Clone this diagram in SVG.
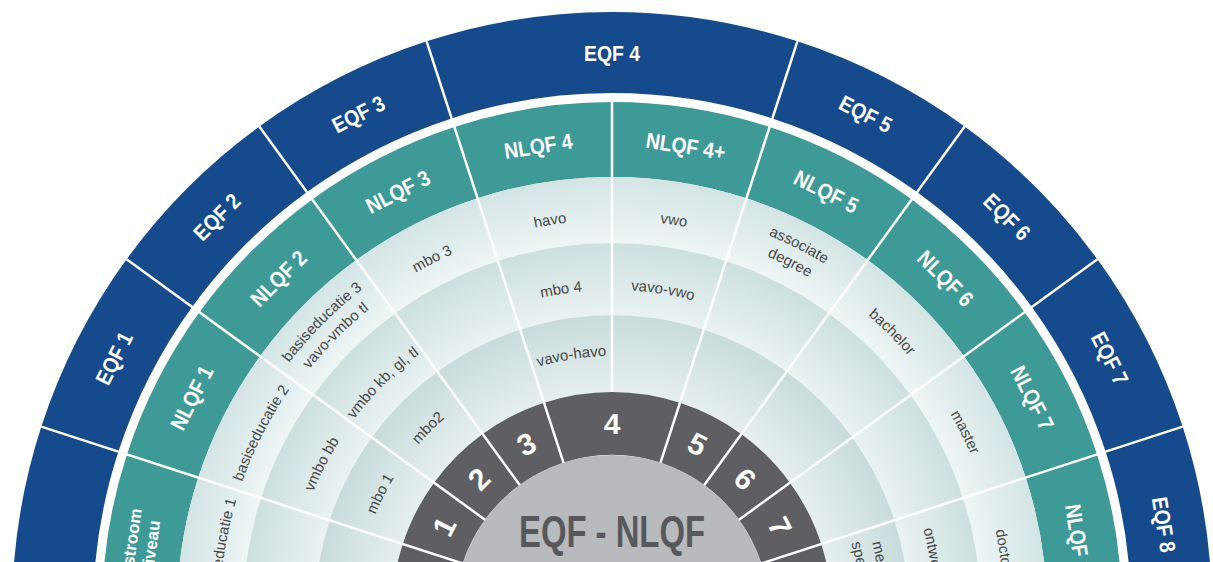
<svg xmlns="http://www.w3.org/2000/svg" width="1213" height="562" viewBox="0 0 1213 562">
<defs>
<style>
.blue{fill:#154b8c}
.teal{fill:#3d9a97}
.dark{fill:#5f5f63}
.ra{fill:url(#gA)}
.rb{fill:url(#gB)}
.rc{fill:url(#gC)}
.lbl{font-family:'Liberation Sans',Arial,sans-serif;font-weight:bold;font-size:22px;fill:#fff;text-anchor:middle}
.ins{font-family:'Liberation Sans',Arial,sans-serif;font-weight:bold;font-size:17px;fill:#fff;text-anchor:middle}
.num{font-family:'Liberation Sans',Arial,sans-serif;font-weight:bold;font-size:30px;fill:#fff;text-anchor:middle}
.cell{font-family:'Liberation Sans',Arial,sans-serif;font-size:15px;fill:#474747;text-anchor:middle}
.ctr{font-family:'Liberation Sans',Arial,sans-serif;font-weight:bold;font-size:44px;fill:#58585c;text-anchor:middle}
.div{stroke:#fff;stroke-width:2.5}
</style>
<radialGradient id="gA" gradientUnits="userSpaceOnUse" cx="0" cy="0" r="435"><stop offset="0.848" stop-color="#eef5f5"/><stop offset="1" stop-color="#d4e4e4"/></radialGradient>
<radialGradient id="gB" gradientUnits="userSpaceOnUse" cx="0" cy="0" r="369"><stop offset="0.805" stop-color="#eaf2f2"/><stop offset="1" stop-color="#cddfdf"/></radialGradient>
<radialGradient id="gC" gradientUnits="userSpaceOnUse" cx="0" cy="0" r="297"><stop offset="0.741" stop-color="#e6efef"/><stop offset="1" stop-color="#c9dbdb"/></radialGradient>
<path id="s-blue18" d="M-93.86,-592.61 A600,600 0 0 1 93.86,-592.61 L81.19,-512.61 A519,519 0 0 0 -81.19,-512.61Z"/>
<path id="s-blue36" d="M-185.41,-570.63 A600,600 0 0 1 185.41,-570.63 L160.38,-493.60 A519,519 0 0 0 -160.38,-493.60Z"/>
<path id="s-teal18" d="M-79.78,-503.72 A510,510 0 0 1 79.78,-503.72 L68.05,-429.64 A435,435 0 0 0 -68.05,-429.64Z"/>
<path id="s-teal36" d="M-157.60,-485.04 A510,510 0 0 1 157.60,-485.04 L134.42,-413.71 A435,435 0 0 0 -134.42,-413.71Z"/>
<path id="s-a18" d="M-68.05,-429.64 A435,435 0 0 1 68.05,-429.64 L57.72,-364.46 A369,369 0 0 0 -57.72,-364.46Z"/>
<path id="s-a36" d="M-134.42,-413.71 A435,435 0 0 1 134.42,-413.71 L114.03,-350.94 A369,369 0 0 0 -114.03,-350.94Z"/>
<path id="s-b18" d="M-57.72,-364.46 A369,369 0 0 1 57.72,-364.46 L46.46,-293.34 A297,297 0 0 0 -46.46,-293.34Z"/>
<path id="s-b36" d="M-114.03,-350.94 A369,369 0 0 1 114.03,-350.94 L91.78,-282.46 A297,297 0 0 0 -91.78,-282.46Z"/>
<path id="s-c18" d="M-46.46,-293.34 A297,297 0 0 1 46.46,-293.34 L34.42,-217.29 A220,220 0 0 0 -34.42,-217.29Z"/>
<path id="s-c36" d="M-91.78,-282.46 A297,297 0 0 1 91.78,-282.46 L67.98,-209.23 A220,220 0 0 0 -67.98,-209.23Z"/>
<path id="s-d18" d="M-34.42,-217.29 A220,220 0 0 1 34.42,-217.29 L24.56,-155.07 A157,157 0 0 0 -24.56,-155.07Z"/>
<path id="s-d36" d="M-67.98,-209.23 A220,220 0 0 1 67.98,-209.23 L48.52,-149.32 A157,157 0 0 0 -48.52,-149.32Z"/>
<path id="tA" d="M-251.97,-300.29 A392,392 0 0 1 251.97,-300.29"/>
<path id="tB" d="M-206.98,-246.67 A322,322 0 0 1 206.98,-246.67"/>
<path id="tC" d="M-164.55,-196.11 A256,256 0 0 1 164.55,-196.11"/>
<path id="tA1" d="M-262.26,-312.55 A408,408 0 0 1 262.26,-312.55"/>
<path id="tA2" d="M-249.40,-297.22 A388,388 0 0 1 249.40,-297.22"/>
<path id="tC1" d="M-172.91,-206.07 A269,269 0 0 1 172.91,-206.07"/>
<path id="tC2" d="M-160.05,-190.74 A249,249 0 0 1 160.05,-190.74"/>
</defs>
<rect width="1213" height="562" fill="#fff"/>
<g transform="translate(612 612)">
<!-- EQF ring -->
<g id="eqf-0"><use href="#s-blue36" class="blue" transform="rotate(-90)"/></g>
<g id="eqf-1"><use href="#s-blue18" class="blue" transform="rotate(-63)"/><text class="lbl" transform="rotate(-63) translate(0 -559) scale(0.88 1)" y="8">EQF 1</text></g>
<g id="eqf-2"><use href="#s-blue18" class="blue" transform="rotate(-45)"/><text class="lbl" transform="rotate(-45) translate(0 -559) scale(0.88 1)" y="8">EQF 2</text></g>
<g id="eqf-3"><use href="#s-blue18" class="blue" transform="rotate(-27)"/><text class="lbl" transform="rotate(-27) translate(0 -559) scale(0.88 1)" y="8">EQF 3</text></g>
<g id="eqf-4"><use href="#s-blue36" class="blue"/><text class="lbl" transform="translate(0 -559) scale(0.88 1)" y="8">EQF 4</text></g>
<g id="eqf-5"><use href="#s-blue18" class="blue" transform="rotate(27)"/><text class="lbl" transform="rotate(27) translate(0 -559) scale(0.88 1)" y="8">EQF 5</text></g>
<g id="eqf-6"><use href="#s-blue18" class="blue" transform="rotate(45)"/><text class="lbl" transform="rotate(45) translate(0 -559) scale(0.88 1)" y="8">EQF 6</text></g>
<g id="eqf-7"><use href="#s-blue18" class="blue" transform="rotate(63)"/><text class="lbl" transform="rotate(63) translate(0 -559) scale(0.88 1)" y="8">EQF 7</text></g>
<g id="eqf-8"><use href="#s-blue36" class="blue" transform="rotate(90)"/><text class="lbl" transform="rotate(81) translate(0 -559) scale(0.88 1)" y="8">EQF 8</text></g>
<!-- NLQF ring -->
<g id="nlqf-instroom"><use href="#s-teal36" class="teal" transform="rotate(-90)"/><text class="ins" transform="rotate(-82) translate(0 -486)" y="6">Instroom</text><text class="ins" transform="rotate(-82) translate(0 -466)" y="6">niveau</text></g>
<g id="nlqf-1"><use href="#s-teal18" class="teal" transform="rotate(-63)"/><text class="lbl" transform="rotate(-63) translate(0 -472) scale(0.88 1)" y="8">NLQF 1</text></g>
<g id="nlqf-2"><use href="#s-teal18" class="teal" transform="rotate(-45)"/><text class="lbl" transform="rotate(-45) translate(0 -472) scale(0.88 1)" y="8">NLQF 2</text></g>
<g id="nlqf-3"><use href="#s-teal18" class="teal" transform="rotate(-27)"/><text class="lbl" transform="rotate(-27) translate(0 -472) scale(0.88 1)" y="8">NLQF 3</text></g>
<g id="nlqf-4"><use href="#s-teal18" class="teal" transform="rotate(-9)"/><text class="lbl" transform="rotate(-9) translate(0 -472) scale(0.88 1)" y="8">NLQF 4</text></g>
<g id="nlqf-4plus"><use href="#s-teal18" class="teal" transform="rotate(9)"/><text class="lbl" transform="rotate(9) translate(0 -472) scale(0.88 1)" y="8">NLQF 4+</text></g>
<g id="nlqf-5"><use href="#s-teal18" class="teal" transform="rotate(27)"/><text class="lbl" transform="rotate(27) translate(0 -472) scale(0.88 1)" y="8">NLQF 5</text></g>
<g id="nlqf-6"><use href="#s-teal18" class="teal" transform="rotate(45)"/><text class="lbl" transform="rotate(45) translate(0 -472) scale(0.88 1)" y="8">NLQF 6</text></g>
<g id="nlqf-7"><use href="#s-teal18" class="teal" transform="rotate(63)"/><text class="lbl" transform="rotate(63) translate(0 -472) scale(0.88 1)" y="8">NLQF 7</text></g>
<g id="nlqf-8"><use href="#s-teal36" class="teal" transform="rotate(90)"/><text class="lbl" transform="rotate(81) translate(0 -472) scale(0.88 1)" y="8">NLQF 8</text></g>
<!-- qualification cells -->
<g id="cell-in-a"><use href="#s-a36" class="ra" transform="rotate(-90)"/><text class="cell" transform="rotate(-81)"><textPath href="#tA" startOffset="50%">basiseducatie 1</textPath></text></g>
<g id="cell-in-b"><use href="#s-b36" class="rb" transform="rotate(-90)"/></g>
<g id="cell-in-c"><use href="#s-c36" class="rc" transform="rotate(-90)"/></g>
<g id="cell-1-a"><use href="#s-a18" class="ra" transform="rotate(-63)"/><text class="cell" transform="rotate(-63)"><textPath href="#tA" startOffset="50%">basiseducatie 2</textPath></text></g>
<g id="cell-1-b"><use href="#s-b18" class="rb" transform="rotate(-63)"/><text class="cell" transform="rotate(-63)"><textPath href="#tB" startOffset="50%">vmbo bb</textPath></text></g>
<g id="cell-1-c"><use href="#s-c18" class="rc" transform="rotate(-63)"/><text class="cell" transform="rotate(-63)"><textPath href="#tC" startOffset="50%">mbo 1</textPath></text></g>
<g id="cell-2-a"><use href="#s-a18" class="ra" transform="rotate(-45)"/><text class="cell" transform="rotate(-45)"><textPath href="#tA1" startOffset="50%">basiseducatie 3</textPath></text><text class="cell" transform="rotate(-45)"><textPath href="#tA2" startOffset="50%">vavo-vmbo tl</textPath></text></g>
<g id="cell-2-b"><use href="#s-b18" class="rb" transform="rotate(-45)"/><text class="cell" transform="rotate(-45)"><textPath href="#tB" startOffset="50%">vmbo kb, gl, tl</textPath></text></g>
<g id="cell-2-c"><use href="#s-c18" class="rc" transform="rotate(-45)"/><text class="cell" transform="rotate(-45)"><textPath href="#tC" startOffset="50%">mbo2</textPath></text></g>
<g id="cell-3-a"><use href="#s-a18" class="ra" transform="rotate(-27)"/><text class="cell" transform="rotate(-27)"><textPath href="#tA" startOffset="50%">mbo 3</textPath></text></g>
<g id="cell-3-b"><use href="#s-b18" class="rb" transform="rotate(-27)"/></g>
<g id="cell-3-c"><use href="#s-c18" class="rc" transform="rotate(-27)"/></g>
<g id="cell-4-a"><use href="#s-a18" class="ra" transform="rotate(-9)"/><text class="cell" transform="rotate(-9)"><textPath href="#tA" startOffset="50%">havo</textPath></text></g>
<g id="cell-4-b"><use href="#s-b18" class="rb" transform="rotate(-9)"/><text class="cell" transform="rotate(-9)"><textPath href="#tB" startOffset="50%">mbo 4</textPath></text></g>
<g id="cell-4-c"><use href="#s-c18" class="rc" transform="rotate(-9)"/><text class="cell" transform="rotate(-9)"><textPath href="#tC" startOffset="50%">vavo-havo</textPath></text></g>
<g id="cell-4p-a"><use href="#s-a18" class="ra" transform="rotate(9)"/><text class="cell" transform="rotate(9)"><textPath href="#tA" startOffset="50%">vwo</textPath></text></g>
<g id="cell-4p-b"><use href="#s-b18" class="rb" transform="rotate(9)"/><text class="cell" transform="rotate(9)"><textPath href="#tB" startOffset="50%">vavo-vwo</textPath></text></g>
<g id="cell-4p-c"><use href="#s-c18" class="rc" transform="rotate(9)"/></g>
<g id="cell-5-a"><use href="#s-a18" class="ra" transform="rotate(27)"/><text class="cell" transform="rotate(27)"><textPath href="#tA1" startOffset="50%">associate</textPath></text><text class="cell" transform="rotate(27)"><textPath href="#tA2" startOffset="50%">degree</textPath></text></g>
<g id="cell-5-b"><use href="#s-b18" class="rb" transform="rotate(27)"/></g>
<g id="cell-5-c"><use href="#s-c18" class="rc" transform="rotate(27)"/></g>
<g id="cell-6-a"><use href="#s-a18" class="ra" transform="rotate(45)"/><text class="cell" transform="rotate(45)"><textPath href="#tA" startOffset="50%">bachelor</textPath></text></g>
<g id="cell-6-b"><use href="#s-b18" class="rb" transform="rotate(45)"/></g>
<g id="cell-6-c"><use href="#s-c18" class="rc" transform="rotate(45)"/></g>
<g id="cell-7-a"><use href="#s-a18" class="ra" transform="rotate(63)"/><text class="cell" transform="rotate(63)"><textPath href="#tA" startOffset="50%">master</textPath></text></g>
<g id="cell-7-b"><use href="#s-b18" class="rb" transform="rotate(63)"/></g>
<g id="cell-7-c"><use href="#s-c18" class="rc" transform="rotate(63)"/></g>
<g id="cell-8-a"><use href="#s-a36" class="ra" transform="rotate(90)"/><text class="cell" transform="rotate(81)"><textPath href="#tA" startOffset="50%">doctor</textPath></text></g>
<g id="cell-8-b"><use href="#s-b36" class="rb" transform="rotate(90)"/><text class="cell" transform="rotate(81)"><textPath href="#tB" startOffset="50%">ontwerper</textPath></text></g>
<g id="cell-8-c"><use href="#s-c36" class="rc" transform="rotate(90)"/><text class="cell" transform="rotate(81)"><textPath href="#tC1" startOffset="50%">medisch</textPath></text><text class="cell" transform="rotate(81)"><textPath href="#tC2" startOffset="50%">specialist</textPath></text></g>
<!-- level numbers ring -->
<g id="lvl-0"><use href="#s-d36" class="dark" transform="rotate(-90)"/></g>
<g id="lvl-1"><use href="#s-d18" class="dark" transform="rotate(-63)"/><text class="num" transform="rotate(-63) translate(0 -188.5)" y="10.7">1</text></g>
<g id="lvl-2"><use href="#s-d18" class="dark" transform="rotate(-45)"/><text class="num" transform="rotate(-45) translate(0 -188.5)" y="10.7">2</text></g>
<g id="lvl-3"><use href="#s-d18" class="dark" transform="rotate(-27)"/><text class="num" transform="rotate(-27) translate(0 -188.5)" y="10.7">3</text></g>
<g id="lvl-4"><use href="#s-d36" class="dark"/><text class="num" transform="translate(0 -188.5)" y="10.7">4</text></g>
<g id="lvl-5"><use href="#s-d18" class="dark" transform="rotate(27)"/><text class="num" transform="rotate(27) translate(0 -188.5)" y="10.7">5</text></g>
<g id="lvl-6"><use href="#s-d18" class="dark" transform="rotate(45)"/><text class="num" transform="rotate(45) translate(0 -188.5)" y="10.7">6</text></g>
<g id="lvl-7"><use href="#s-d18" class="dark" transform="rotate(63)"/><text class="num" transform="rotate(63) translate(0 -188.5)" y="10.7">7</text></g>
<g id="lvl-8"><use href="#s-d36" class="dark" transform="rotate(90)"/></g>
<!-- center -->
<g id="center"><circle r="157" fill="#b9babd"/><text class="ctr" x="0" y="-65" textLength="186" lengthAdjust="spacingAndGlyphs">EQF - NLQF</text></g>
<!-- dividers -->
<g id="connectors" class="div">
<line x1="0" y1="-220" x2="0" y2="-510"/>
<line x1="0" y1="-157" x2="0" y2="-600" transform="rotate(-18)"/>
<line x1="0" y1="-157" x2="0" y2="-600" transform="rotate(18)"/>
<line x1="0" y1="-157" x2="0" y2="-600" transform="rotate(-36)"/>
<line x1="0" y1="-157" x2="0" y2="-600" transform="rotate(36)"/>
<line x1="0" y1="-157" x2="0" y2="-600" transform="rotate(-54)"/>
<line x1="0" y1="-157" x2="0" y2="-600" transform="rotate(54)"/>
<line x1="0" y1="-157" x2="0" y2="-600" transform="rotate(-72)"/>
<line x1="0" y1="-157" x2="0" y2="-600" transform="rotate(72)"/>
</g>
</g>
</svg>
